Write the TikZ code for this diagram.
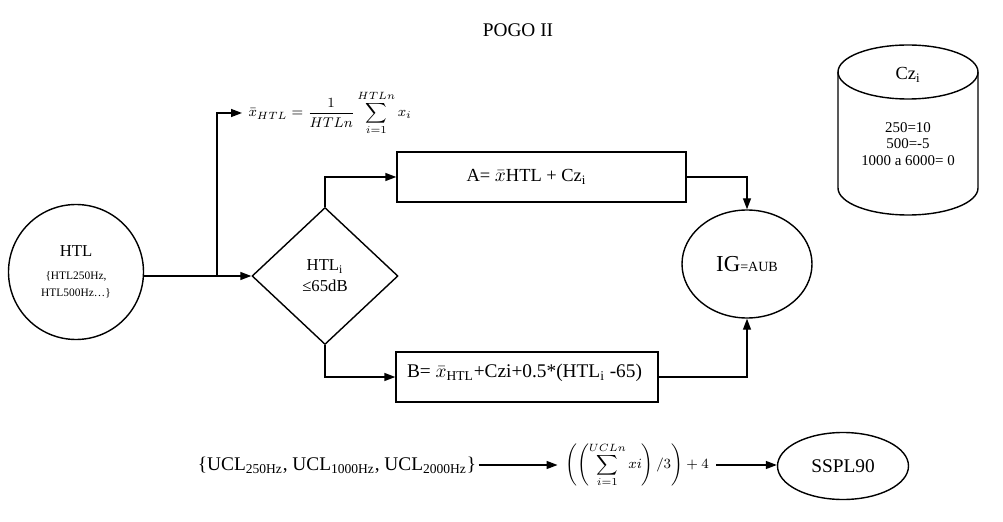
\documentclass[tikz,border=0pt]{standalone}
\usepackage{fontspec}
\setmainfont{Liberation Serif}
\usepackage{amsmath}
\usepackage{tikz}
\usetikzlibrary{arrows.meta,positioning,shapes.geometric,calc}

\begin{document}
\begin{tikzpicture}[
  x=0.2mm, y=-0.2mm, >={Triangle[length=2.2mm,width=1.6mm]}, line width=0.8pt,
  box/.style={rectangle, draw, inner sep=0pt, minimum height=10mm},
  bubble/.style={ellipse, draw, inner sep=0pt},
  txt/.style={font=\fontsize{10.5}{12}\selectfont},
]
\useasboundingbox (0,0) rectangle (1003,522);

\node[font=\fontsize{11}{13}\selectfont] (title) at (518,30) {POGO II};

% entrada
\node[circle, draw, minimum size=27mm, inner sep=0pt, align=center,
  font=\fontsize{6.5}{10}\selectfont] (htl) at (76,272)
  {{\fontsize{9.5}{11}\selectfont HTL}\\[3pt]\{HTL250Hz,\\HTL500Hz…\}};
\node[diamond, draw, minimum width=29.2mm, minimum height=27.4mm, inner sep=0pt,
  align=center, font=\fontsize{9.5}{12}\selectfont] (cond) at (325,276)
  {HTL\textsubscript{i}\\≤65dB};
\coordinate (split) at (217,276);
\node[anchor=west, font=\fontsize{8.5}{10}\selectfont] (mean) at (242,113)
  {$\displaystyle \bar{x}_{HTL}=\frac{1}{HTLn}\sum_{i=1}^{HTLn}x_i$};

% ramas
\node[box, minimum width=57.8mm, txt] (boxA) at (541.5,177)
  {A= $\bar{x}$HTL + Cz\textsubscript{i}\hspace*{6mm}};
\node[box, minimum width=52.4mm, minimum height=10mm] (boxB) at (527,377) {};
\node[anchor=base west, inner sep=0pt, font=\fontsize{11}{13}\selectfont] (textB)
  at ($(boxB.north west)+(11,26)$)
  {B= $\bar{x}$\textsubscript{HTL}+Czi+0.5*(HTL\textsubscript{i} -65)};
\node[bubble, minimum width=26mm, minimum height=21.6mm] (ig) at (747,264)
  {{\fontsize{13}{15}\selectfont IG}{\fontsize{8}{9}\selectfont =AUB}};

\draw (split -| htl.east) -- (split);
\draw[->] (split) -- (cond.west);
\draw[->] (split) |- (mean.west);
\draw[->] (cond.north) |- (boxA.west);
\draw[->] (cond.south) |- (boxB.west);
\draw[->] (boxA.east) -| (ig.north);
\draw[->] (boxB.east) -| (ig.south);

% tabla Cz
\draw (838,72) -- (838,188) arc[start angle=180, end angle=360, x radius=14mm, y radius=5.4mm]
  -- (978,72);
\draw (908,72) ellipse[x radius=14mm, y radius=5.4mm];
\node[font=\fontsize{10.5}{12}\selectfont] (czname) at (908,75) {Cz\textsubscript{i}};
\node[align=center, font=\fontsize{8.5}{9.4}\selectfont] (czvals) at (908,144)
  {250=10\\500=-5\\1000 a 6000= 0};

% fila inferior
\node[font=\fontsize{11}{13}\selectfont, inner sep=1pt] (ucl) at (337,465)
  {\{UCL\textsubscript{250Hz}, UCL\textsubscript{1000Hz}, UCL\textsubscript{2000Hz}\}};
\node[font=\fontsize{8.5}{10}\selectfont, inner sep=1.4mm] (avg) at (637,465)
  {$\displaystyle \left(\left(\sum_{i=1}^{UCLn}xi\right)/3\right)+4$};
\node[bubble, minimum width=26.2mm, minimum height=13.4mm,
  font=\fontsize{11}{13}\selectfont] (sspl) at (843,466) {SSPL90};
\draw[->] (ucl.east) -- (avg.west);
\draw[->] (avg.east) -- (avg.east -| sspl.west);
\end{tikzpicture}
\end{document}
